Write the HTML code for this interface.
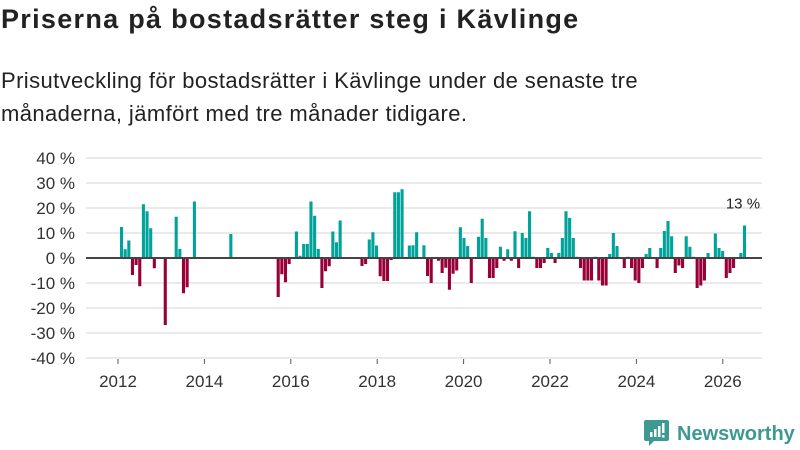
<!DOCTYPE html>
<html><head><meta charset="utf-8">
<style>
html,body{margin:0;padding:0;background:#fff;}
body{width:800px;height:450px;overflow:hidden;position:relative;font-family:"Liberation Sans",sans-serif;color:#222;}
#title{position:absolute;left:1px;top:4px;font-size:27px;font-weight:bold;margin:0;letter-spacing:1.3px;white-space:nowrap;}
#subtitle{position:absolute;left:1px;top:64px;font-size:22px;line-height:33px;margin:0;width:660px;color:#222;letter-spacing:0.4px;}
svg{position:absolute;left:0;top:0;}
</style></head><body>
<h1 id="title">Priserna på bostadsrätter steg i Kävlinge</h1>
<p id="subtitle">Prisutveckling för bostadsrätter i Kävlinge under de senaste tre månaderna, jämfört med tre månader tidigare.</p>
<svg id="chart" width="800" height="450"></svg>
<script>
const monthIndex = [0,1,2,3,4,5,6,7,8,9,12,15,16,17,18,20,30,
43,44,45,46,48,49,50,51,52,53,54,55,56,57,58,59,60,66,67,68,69,70,71,72,73,74,75,76,77,79,81,
80,83,84,85,87,88,89,90,91,92,93,94,95,96,98,99,100,101,102,103,104,105,106,107,108,109,110,111,112,113,114,115,116,117,118,119,120,121,122,123,
124,125,126,127,128,129,130,131,132,133,134,135,136,138,139,140,141,142,143,144,145,147,148,149,150,151,152,153,154,155,156,157,158,159,160,161,163,164,165,166,167,168,170,171];
const changeValues = [12.4,3.5,7,-6.8,-2.8,-11.3,21.5,18.7,11.9,-4.1,-26.8,16.5,3.6,-14.1,-11.7,22.6,9.6,
-15.6,-6.5,-9.7,-2.4,10.6,0.9,5.6,5.6,22.6,16.9,3.6,-12,-5.3,-3.3,10.6,6.3,15,-3.2,-2.4,7.4,10.3,5,-7.3,-9.2,-9.2,-0.8,26.3,26.3,27.5,5,10.3,
5.1,5.1,-7.2,-10,-1.1,-6,-3.9,-12.7,-6.3,-5,12.3,8,4.8,-10,8.5,15.7,8,-8,-8,-4,4.5,-1.1,3.5,-1.1,10.7,-4,10,8,18.7,0.5,-4,-4,-2,4,2,-2,2,8,18.7,16,
8,0.5,-4,-9,-9,-9,0.5,-9,-11,-11,1.6,10,4.8,-4,0.5,-4,-9,-10,-4,1.6,4,-4,4,10.8,14.8,8.7,-6,-3,-4,8.7,4.5,0.5,-12,-11,-9,2,9.8,4,2.8,-8,-6,-4,2,13];
const yTicks = [40,30,20,10,0,-10,-20,-30,-40];
const yTickLabels = ["40 %","30 %","20 %","10 %","0 %","-10 %","-20 %","-30 %","-40 %"];
const xTickYears = [2012,2014,2016,2018,2020,2022,2024,2026];
const lastLabel = "13 %";

const NS="http://www.w3.org/2000/svg";
const svg=document.getElementById('chart');
function yScale(v){return 258 - v*2.5;}
function xBar(i){return 120 + i*3.643;}
function xYear(y){return 118 + (y-2012)*43.2;}
function mk(tag,attrs){const e=document.createElementNS(NS,tag);for(const k in attrs)e.setAttribute(k,attrs[k]);svg.appendChild(e);return e;}

yTicks.forEach((t,k)=>{
  const g=mk('line',{x1:86,x2:762,y1:yScale(t),y2:yScale(t),stroke:'#dedede','stroke-width':1.3});
  
  
  const tx=mk('text',{x:75,y:yScale(t)+6,'text-anchor':'end','font-size':17,fill:'#333','font-family':'Liberation Sans, sans-serif'});
  tx.textContent=yTickLabels[k];
  
  
});
xTickYears.forEach(y=>{
  const tk=mk('line',{x1:xYear(y),x2:xYear(y),y1:359,y2:364,stroke:'#555','stroke-width':1});
  
  
  const tx=mk('text',{x:xYear(y),y:387,'text-anchor':'middle','font-size':17,fill:'#333','font-family':'Liberation Sans, sans-serif'});
  tx.textContent=String(y);
  
  
});
monthIndex.forEach((m,k)=>{
  const v=changeValues[k];
  const y0=yScale(0), y1=yScale(v);
  const r=mk('rect',{x:xBar(m),y:Math.min(y0,y1),width:3.1,height:Math.abs(y1-y0),fill:v>=0?'#00a39a':'#980038'});
  
  
});
const zl=mk('line',{x1:86,x2:762,y1:yScale(0),y2:yScale(0),stroke:'#444','stroke-width':2});


const li=monthIndex[monthIndex.length-1];
const lv=changeValues[changeValues.length-1];
const lab=mk('text',{x:xBar(li)+0,y:yScale(lv)-17,'text-anchor':'middle','font-size':15,fill:'#222','font-family':'Liberation Sans, sans-serif'});
lab.textContent=lastLabel;



const logo=document.createElementNS(NS,'g');


logo.innerHTML='<path d="M646 420 h21 a2 2 0 0 1 2 2 v17 a2 2 0 0 1 -2 2 h-13 l-5 5 v-5 h-3 a2 2 0 0 1 -2 -2 v-17 a2 2 0 0 1 2 -2z" fill="#3c9a90"/>'+
'<rect x="650" y="432" width="2.5" height="5" fill="#fff"/><rect x="654" y="429" width="2.5" height="8" fill="#fff"/><rect x="658" y="426" width="2.5" height="11" fill="#fff"/><rect x="662" y="423" width="2.5" height="10" fill="#fff"/><rect x="662" y="435" width="2.5" height="2.5" fill="#fff"/>'+
'<text x="677" y="440" font-size="20" font-weight="bold" fill="#3c9a90" font-family="Liberation Sans, sans-serif">Newsworthy</text>';
svg.appendChild(logo);
</script>
</body></html>
